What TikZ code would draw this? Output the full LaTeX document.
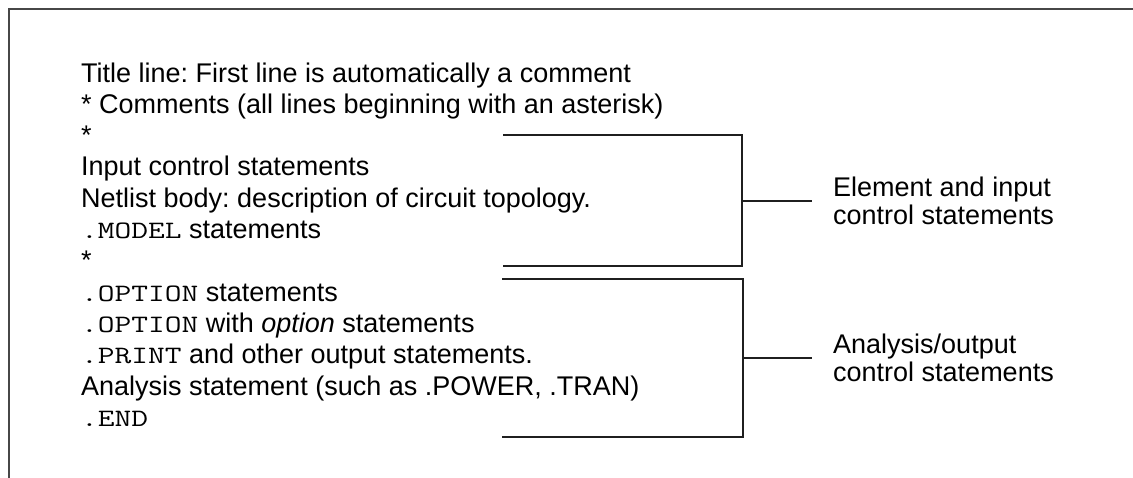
\documentclass[tikz,border=0pt]{standalone}
\usepackage{graphicx}
\usepackage{fontspec}
\setmainfont{Liberation Sans}
\newcommand{\cw}[1]{\scalebox{1.3}[1]{\fontsize{25}{31}\selectfont\ttfamily #1}}
\tikzset{
  txtline/.style={font=\fontsize{27}{31}\selectfont, anchor=base west, inner sep=0pt},
  lab/.style={font=\fontsize{27}{28}\selectfont, align=left, anchor=west, inner sep=0pt},
  brk/.style={line width=2pt, draw=black!88},
  frm/.style={line width=2.5pt, draw=black!72},
}
\begin{document}
\frenchspacing
\begin{tikzpicture}[x=1pt,y=-1pt]
  \useasboundingbox (0,0) rectangle (1133,477);
  % frame
  \coordinate (fa) at (9,480);
  \coordinate (fb) at (9,9);
  \coordinate (fc) at (1136,9);
  \draw[frm] (fa) -- (fb) -- (fc);
  % text lines
  \node[txtline] (l1)  at (81,82)    {Title line: First line is automatically a comment};
  \node[txtline] (l2)  at (81,113.3) {* Comments (all lines beginning with an asterisk)};
  \node[txtline] (l3)  at (81,144.6) {*};
  \node[txtline] (l4)  at (81,175.9) {Input control statements};
  \node[txtline] (l5)  at (81,207.2) {Netlist body: description of circuit topology.};
  \node[txtline] (l6)  at (81,238.5) {\cw{.MODEL} statements};
  \node[txtline] (l7)  at (81,269.8) {*};
  \node[txtline] (l8)  at (81,301.1) {\cw{.OPTION} statements};
  \node[txtline] (l9)  at (81,332.4) {\cw{.OPTION} with \textit{option} statements};
  \node[txtline] (l10) at (81,363.7) {\cw{.PRINT} and other output statements.};
  \node[txtline] (l11) at (81,395.0) {Analysis statement (such as .POWER, .TRAN)};
  \node[txtline] (l12) at (81,426.3) {\cw{.END}};
  % labels
  \node[lab] (e1) at (833,201) {Element and input\\control statements};
  \node[lab] (e2) at (833,358) {Analysis/output\\control statements};
  % bracket 1
  \coordinate (b1a) at (503,135);
  \coordinate (b1b) at (742,135);
  \coordinate (b1c) at (742,266);
  \coordinate (b1d) at (503,266);
  \coordinate (b1m) at (742,201);
  \coordinate (b1s) at (812,201);
  \draw[brk] (b1a) -- (b1b) -- (b1c) -- (b1d);
  \draw[brk] (b1m) -- (b1s);
  % bracket 2
  \coordinate (b2a) at (502,279);
  \coordinate (b2b) at (743,279);
  \coordinate (b2c) at (743,437);
  \coordinate (b2d) at (502,437);
  \coordinate (b2m) at (743,358);
  \coordinate (b2s) at (812,358);
  \draw[brk] (b2a) -- (b2b) -- (b2c) -- (b2d);
  \draw[brk] (b2m) -- (b2s);
\end{tikzpicture}
\end{document}
